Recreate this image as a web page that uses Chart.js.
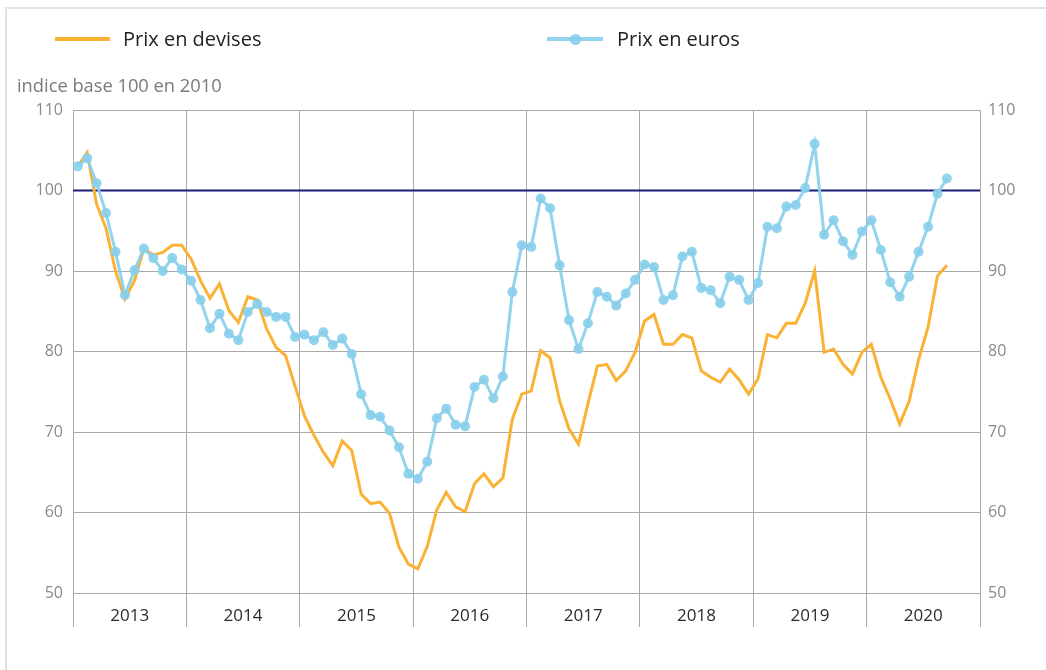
<!DOCTYPE html>
<html>
<head>
<meta charset="utf-8">
<script src="https://cdn.jsdelivr.net/npm/chart.js@4.4.1/dist/chart.umd.min.js"></script>
<style>
  html, body { margin: 0; padding: 0; background: #fff; }
  #wrap { position: relative; width: 1046px; height: 670px; overflow: hidden; font-family: "Open Sans", sans-serif; }
  #frame { position: absolute; left: 5px; top: 7px; width: 1050px; height: 680px; border: 2px solid #e2e2e2; box-sizing: border-box; }
  canvas { position: absolute; left: 0; top: 0; }
  .leg { position: absolute; top: 26px; font-size: 20px; color: #222; line-height: 26px; }
  .sw { position: absolute; height: 4px; top: 37px; }
  .dot { position: absolute; width: 11px; height: 11px; border-radius: 50%; top: 33.5px; }
  #ytitle { position: absolute; left: 17px; top: 72px; font-size: 18.3px; color: #7a7a7a; line-height: 26px; }
</style>
</head>
<body>
<div id="wrap">
  <div id="frame"></div>
  <canvas id="c" width="1046" height="670"></canvas>
  <div class="sw" id="sw1" style="left:55px;width:55px;"></div>
  <div class="leg" id="lg1" style="left:123px;"></div>
  <div class="sw" id="sw2" style="left:547px;width:56px;"></div>
  <div class="dot" id="dt2" style="left:570px;"></div>
  <div class="leg" id="lg2" style="left:617px;"></div>
  <div id="ytitle">indice base 100 en 2010</div>
</div>
<script>
// monthly index, Jan 2013 .. Sep 2020
const years = ["2013", "2014", "2015", "2016", "2017", "2018", "2019", "2020"];
const yTicks = [50, 60, 70, 80, 90, 100, 110];

const prixDevises = [
  103.0, 104.7, 98.3, 95.3, 90.0, 86.5, 88.8, 92.8, 92.0, 92.3, 93.2, 93.2,
  91.5, 88.8, 86.6, 88.4, 85.1, 83.6, 86.8, 86.4, 82.8, 80.5, 79.5, 75.7,
  72.0, 69.6, 67.5, 65.8, 68.9, 67.7, 62.3, 61.1, 61.3, 59.9, 55.7, 53.6,
  53.0, 55.8, 60.3, 62.5, 60.7, 60.1, 63.6, 64.8, 63.2, 64.3, 71.6, 74.7,
  75.1, 80.1, 79.2, 73.9, 70.4, 68.5, 73.5, 78.2, 78.4, 76.4, 77.6, 79.9,
  83.8, 84.6, 80.9, 80.9, 82.1, 81.7, 77.6, 76.8, 76.2, 77.8, 76.5, 74.7,
  76.6, 82.1, 81.7, 83.5, 83.5, 86.0, 90.0, 79.9, 80.3, 78.4, 77.2, 79.9,
  80.9, 76.8, 74.1, 71.0, 73.8, 79.0, 83.0, 89.4, 90.7
];

const prixEuros = [
  103.0, 104.0, 100.9, 97.2, 92.4, 87.0, 90.1, 92.8, 91.6, 90.0, 91.6, 90.2,
  88.8, 86.4, 82.9, 84.7, 82.2, 81.4, 84.9, 85.9, 84.9, 84.3, 84.3, 81.8,
  82.1, 81.4, 82.4, 80.8, 81.6, 79.7, 74.7, 72.1, 71.9, 70.2, 68.1, 64.8,
  64.2, 66.3, 71.7, 72.9, 70.9, 70.7, 75.6, 76.5, 74.2, 76.9, 87.4, 93.2,
  93.0, 99.0, 97.8, 90.7, 83.9, 80.3, 83.5, 87.4, 86.8, 85.7, 87.2, 88.9,
  90.8, 90.5, 86.4, 87.0, 91.8, 92.4, 87.9, 87.6, 86.0, 89.3, 88.9, 86.4,
  88.5, 95.5, 95.3, 98.0, 98.2, 100.3, 105.8, 94.5, 96.3, 93.7, 92.0, 94.9,
  96.3, 92.6, 88.6, 86.8, 89.3, 92.4, 95.5, 99.6, 101.5
];

const baseLine = 100;

const ORANGE = "rgb(251, 178, 52)";
const BLUE = "rgba(137, 207, 236, 0.92)";
const GRID = "#a9a9a9";

// month i is drawn at the middle of its month
const toPoints = arr => arr.map((v, i) => ({ x: i + 0.5, y: v }));

const baseLinePlugin = {
  id: "baseLine",
  beforeDatasetsDraw(chart) {
    const { ctx, chartArea, scales } = chart;
    const y = scales.y.getPixelForValue(baseLine);
    ctx.save();
    ctx.strokeStyle = "#1b1b78";
    ctx.lineWidth = 2;
    ctx.beginPath();
    ctx.moveTo(chartArea.left, y);
    ctx.lineTo(chartArea.right, y);
    ctx.stroke();
    ctx.restore();
  }
};

const chart = new Chart(document.getElementById("c"), {
  type: "line",
  data: {
    labels: years,
    datasets: [
      {
        label: "Prix en devises",
        data: toPoints(prixDevises),
        xAxisID: "xm",
        borderColor: ORANGE,
        backgroundColor: ORANGE,
        borderWidth: 3,
        pointRadius: 0,
        tension: 0,
        order: 2
      },
      {
        label: "Prix en euros",
        data: toPoints(prixEuros),
        xAxisID: "xm",
        borderColor: BLUE,
        backgroundColor: BLUE,
        borderWidth: 3,
        pointRadius: 5,
        pointBorderWidth: 0,
        pointBackgroundColor: BLUE,
        tension: 0,
        order: 1
      }
    ]
  },
  options: {
    responsive: false,
    animation: false,
    devicePixelRatio: 1,
    layout: { padding: { top: 110, left: 0, right: 0, bottom: 0 } },
    plugins: { legend: { display: false }, tooltip: { enabled: false } },
    scales: {
      xm: { type: "linear", min: 0, max: years.length * 12, display: false },
      x: {
        type: "category",
        position: "bottom",
        offset: true,
        grid: { color: GRID, lineWidth: 1, offset: true, tickLength: 34, tickColor: GRID },
        border: { color: GRID },
        ticks: { color: "#2b2b2b", font: { family: "Open Sans", size: 17 }, padding: -21, maxRotation: 0 },
        afterFit: s => { s.height = 77; }
      },
      y: {
        position: "left",
        min: 50, max: 110,
        afterBuildTicks: s => { s.ticks = yTicks.map(v => ({ value: v })); },
        grid: { color: GRID, drawTicks: false },
        border: { color: GRID },
        ticks: { color: "#8a8a8a", font: { family: "Open Sans", size: 16 }, padding: 10 },
        afterFit: s => { s.width = 73; }
      },
      y2: {
        position: "right",
        min: 50, max: 110,
        afterBuildTicks: s => { s.ticks = yTicks.map(v => ({ value: v })); },
        grid: { display: false, drawTicks: false },
        border: { color: GRID },
        ticks: { color: "#8a8a8a", font: { family: "Open Sans", size: 16 }, padding: 8 },
        afterFit: s => { s.width = 66; }
      }
    }
  },
  plugins: [baseLinePlugin]
});

// legend built from the datasets
const ds = chart.data.datasets;
document.getElementById("lg1").textContent = ds[0].label;
document.getElementById("sw1").style.background = ds[0].borderColor;
document.getElementById("lg2").textContent = ds[1].label;
document.getElementById("sw2").style.background = ds[1].borderColor;
document.getElementById("dt2").style.background = ds[1].borderColor;
</script>
</body>
</html>
